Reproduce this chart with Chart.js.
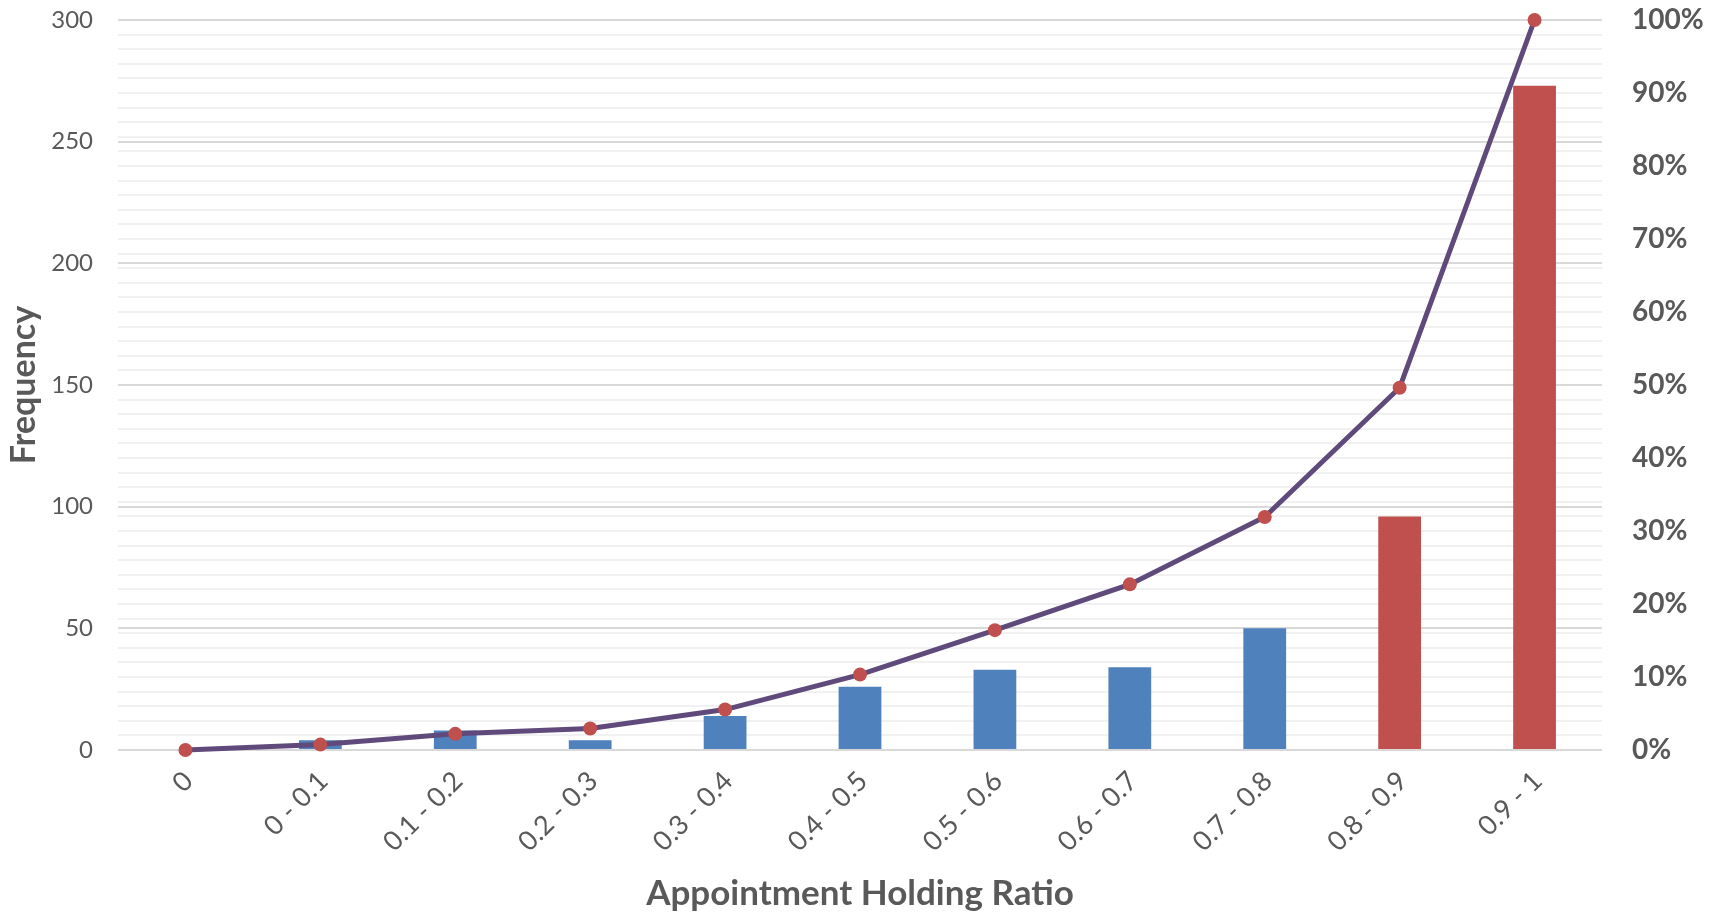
<!DOCTYPE html>
<html>
<head>
<meta charset="utf-8">
<title>Appointment Holding Ratio</title>
<script src="https://cdn.jsdelivr.net/npm/chart.js@4/dist/chart.umd.min.js"></script>
<style>
  html, body { margin: 0; padding: 0; background: #ffffff; }
  #wrap { width: 1721px; height: 917px; }
</style>
</head>
<body>
<div id="wrap"><canvas id="chart" width="1721" height="917"></canvas></div>
<script>
// Histogram bins of the appointment holding ratio
const categories = ['0', '0 - 0.1', '0.1 - 0.2', '0.2 - 0.3', '0.3 - 0.4', '0.4 - 0.5',
                    '0.5 - 0.6', '0.6 - 0.7', '0.7 - 0.8', '0.8 - 0.9', '0.9 - 1'];
// Number of patients in each bin
const frequency = [0, 4, 8, 4, 14, 26, 33, 34, 50, 96, 273];
// Cumulative share of patients (percent)
const cumulativePct = [0, 0.74, 2.21, 2.95, 5.54, 10.33, 16.42, 22.69, 31.92, 49.63, 100];
// Axis tick settings
const freqMax = 300, freqStep = 50;
const pctLabelStep = 10;   // labelled every 10 %
const pctGridStep = 2;     // light grid every 2 %

const TEXT = '#595959';
const BLUE = '#4F81BD';
const RED = '#C0504D';
const PURPLE = '#604A7B';
const FONT = 'Lato, "Open Sans", sans-serif';

// fixed box sizes so the plot area sits where it should
const fixBox = (w, h) => s => {
  if (w !== null) s.width = w;
  if (h !== null) s.height = h;
  s.paddingTop = 0; s.paddingBottom = 0;
  s.paddingLeft = 0; s.paddingRight = 0;
};

new Chart(document.getElementById('chart'), {
  type: 'bar',
  data: {
    labels: categories,
    datasets: [
      {
        type: 'line',
        label: 'Cumulative %',
        data: cumulativePct.map(v => v / 100),
        yAxisID: 'y1',
        borderColor: PURPLE,
        borderWidth: 5,
        pointBackgroundColor: RED,
        pointBorderColor: RED,
        pointRadius: 7,
        pointBorderWidth: 0,
        tension: 0,
        clip: false,
        order: 0
      },
      {
        type: 'bar',
        label: 'Frequency',
        data: frequency,
        yAxisID: 'y',
        backgroundColor: ctx => ctx.dataIndex >= 9 ? RED : BLUE,
        borderWidth: 0,
        categoryPercentage: 1,
        barPercentage: 0.317,
        order: 1
      }
    ]
  },
  options: {
    responsive: false,
    animation: false,
    layout: { padding: { top: 20, left: 0, right: 0, bottom: 0 } },
    plugins: { legend: { display: false }, tooltip: { enabled: false } },
    scales: {
      x: {
        offset: true,
        grid: { display: false, drawTicks: false },
        border: { display: false },
        ticks: {
          color: TEXT,
          font: { family: FONT, size: 27 },
          minRotation: 45,
          maxRotation: 45,
          autoSkip: false,
          padding: 15,
          labelOffset: 3
        },
        title: {
          display: true,
          text: 'Appointment Holding Ratio',
          color: TEXT,
          font: { family: FONT, size: 35, weight: 'bold' },
          padding: { top: 0, bottom: 2 }
        },
        afterFit: fixBox(null, 167)
      },
      y: {
        position: 'left',
        min: 0,
        max: freqMax,
        ticks: {
          stepSize: freqStep,
          color: TEXT,
          font: { family: FONT, size: 24 },
          padding: 25
        },
        grid: { color: '#d9d9d9', lineWidth: 2, drawTicks: false },
        border: { display: false },
        title: {
          display: true,
          text: 'Frequency',
          color: TEXT,
          font: { family: FONT, size: 34, weight: 'bold' },
          padding: { top: 4, bottom: 0 }
        },
        afterFit: fixBox(118, null)
      },
      y1: {
        position: 'right',
        min: 0,
        max: 1,
        ticks: {
          stepSize: pctGridStep / 100,
          autoSkip: false,
          color: TEXT,
          font: { family: FONT, size: 28, weight: 'bold' },
          padding: 30,
          callback: v => {
            const p = Math.round(v * 100);
            return p % pctLabelStep === 0 ? p + '%' : '';
          }
        },
        grid: {
          drawTicks: false,
          lineWidth: 2,
          color: ctx => {
            const p = Math.round(ctx.tick.value * 100);
            return (p === 0 || p === 50 || p === 100) ? 'rgba(0,0,0,0)' : '#f1f1f1';
          }
        },
        border: { display: false },
        afterFit: fixBox(119, null)
      }
    }
  }
});
</script>
</body>
</html>
